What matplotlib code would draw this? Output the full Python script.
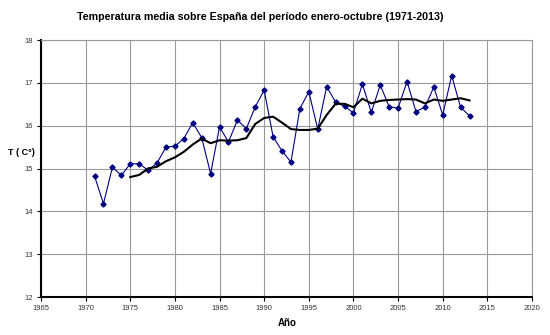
import matplotlib
matplotlib.use("Agg")
import matplotlib.pyplot as plt

plt.rcParams['font.family'] = ['Liberation Sans', 'DejaVu Sans']

# temperatura media enero-octubre
years = list(range(1971, 2014))
temps = [14.82, 14.18, 15.03, 14.84, 15.11, 15.11, 14.96, 15.13, 15.50, 15.52,
         15.70, 16.07, 15.72, 14.88, 15.97, 15.62, 16.13, 15.93, 16.44, 16.83,
         15.74, 15.41, 15.15, 16.40, 16.79, 15.92, 16.91, 16.55, 16.45, 16.30,
         16.97, 16.31, 16.95, 16.44, 16.41, 17.03, 16.33, 16.43, 16.90, 16.25,
         17.17, 16.43, 16.23]

# media movil de 5 años
ma_years = list(range(1975, 2014))
ma_temps = [14.80, 14.85, 15.00, 15.04, 15.17, 15.26, 15.39, 15.56, 15.70, 15.59,
            15.66, 15.65, 15.66, 15.71, 16.04, 16.18, 16.21, 16.07, 15.92, 15.90,
            15.90, 15.93, 16.25, 16.51, 16.51, 16.43, 16.63, 16.52, 16.58, 16.60,
            16.61, 16.62, 16.61, 16.52, 16.61, 16.58, 16.61, 16.64, 16.59]

fig = plt.figure(figsize=(5.5, 3.35), dpi=100)
ax = fig.add_axes([41 / 550, 1 - 297 / 335, (532 - 41) / 550, (297 - 40) / 335])

ax.plot(years, temps, color='#000080', lw=0.8, marker='D', markersize=2.6, zorder=3)
ax.plot(ma_years, ma_temps, color='black', lw=1.5, zorder=4)

ax.set_xlim(1965, 2020)
ax.set_ylim(12, 18)
ax.set_xticks(range(1965, 2021, 5))
ax.set_yticks(range(12, 19))
ax.grid(True, color='#9a9a9a', lw=0.8)
ax.set_axisbelow(True)

for s in ['top', 'right']:
    ax.spines[s].set_color('#9a9a9a')
    ax.spines[s].set_linewidth(0.8)
for s in ['left', 'bottom']:
    ax.spines[s].set_color('black')
    ax.spines[s].set_linewidth(1.5)

ax.tick_params(direction='out', length=3, width=0.8, labelsize=5.5,
               labelcolor='#333333', pad=3)

fig.text(260 / 550, 1 - 17 / 335, 'Temperatura media sobre España del período enero-octubre (1971-2013)',
         ha='center', va='center', fontsize=7.7, fontweight='bold')
fig.text(287 / 550, 1 - 323 / 335, 'Año', ha='center', va='center',
         fontsize=7, fontweight='bold')
fig.text(21 / 550, 1 - 153 / 335, 'T ( C°)', ha='center', va='center',
         fontsize=6.5, fontweight='bold')

fig.savefig('out.png', dpi=100)
